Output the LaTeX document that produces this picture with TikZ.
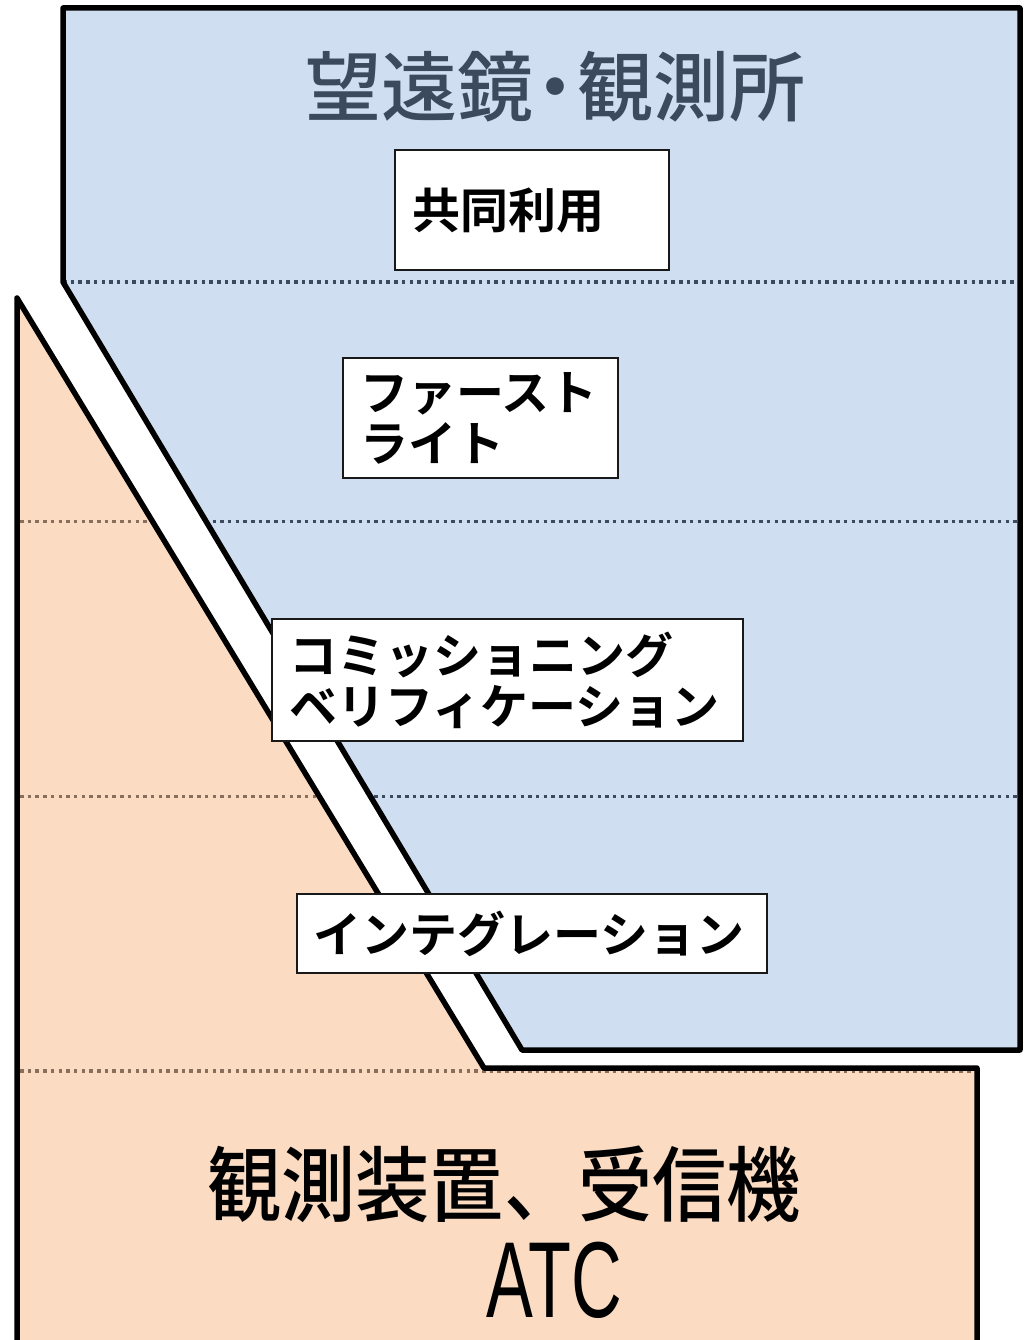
\documentclass[tikz,border=0pt]{standalone}
\usepackage{fontspec}
\newfontfamily\jp{Noto Sans CJK JP}[UprightFont={* Medium}, BoldFont={* Bold}]
\newfontfamily\latin{Liberation Sans}
\definecolor{bluefill}{HTML}{CFDFF1}
\definecolor{orangefill}{HTML}{FBDCC3}
\definecolor{bluedot}{HTML}{3B4A5C}
\definecolor{orangedot}{HTML}{8A6E5C}
\definecolor{titlecol}{HTML}{3B4A5C}
\begin{document}
\begin{tikzpicture}[x=1pt,y=-1pt,
  outline/.style={draw=black, line width=5.5pt, line join=round},
  sepline/.style={line width=3.5pt, dash pattern=on 3.5pt off 4.2pt},
  stage/.style={draw=black!90, line width=2pt, fill=white, anchor=north west,
    font=\jp\bfseries\fontsize{48}{51}\selectfont, align=left, inner ysep=0pt}]
\useasboundingbox (0,0) rectangle (1023,1340);
% shapes
\path[fill=bluefill] (63,8) -- (1020,8) -- (1020,1050) -- (522,1050) -- (63,282) -- cycle;
\path[fill=orangefill] (17,298) -- (484,1068) -- (977,1068) -- (977,1360) -- (17,1360) -- cycle;
% dotted separators
\begin{scope}
  \clip (63,8) -- (1020,8) -- (1020,1050) -- (522,1050) -- (63,282) -- cycle;
  \draw[sepline, draw=bluedot] (63,282) -- (1023,282);
  \draw[sepline, draw=bluedot] (20,521.5) -- (1023,521.5);
  \draw[sepline, draw=bluedot] (20,796.5) -- (1023,796.5);
\end{scope}
\begin{scope}
  \clip (17,298) -- (484,1068) -- (977,1068) -- (977,1360) -- (17,1360) -- cycle;
  \draw[sepline, draw=orangedot] (20,521.5) -- (1023,521.5);
  \draw[sepline, draw=orangedot] (20,796.5) -- (1023,796.5);
  \draw[sepline, draw=orangedot] (20,1071) -- (1023,1071);
\end{scope}
% outlines
\draw[outline] (63,8) -- (1020,8) -- (1020,1050) -- (522,1050) -- (63,282) -- cycle;
\draw[outline] (17,1360) -- (17,298) -- (484,1068) -- (977,1068) -- (977,1360);
% titles
\node[anchor=base west, inner sep=0pt, text=titlecol, font=\jp\fontsize{76}{80}\selectfont]
  (telescope) at (305,116) {望遠鏡\kern-16pt・\kern-16pt 観測所};
\node[anchor=base west, inner sep=0pt, text=black, font=\jp\fontsize{82}{86}\selectfont]
  (instrument) at (207,1215) {\scalebox{0.905}[1]{観測装置、受信機}};
\node[anchor=base, inner sep=0pt, text=black, font=\latin\fontsize{108}{112}\selectfont]
  (atc) at (554.5,1317) {\scalebox{0.65}[1]{ATC}};
% stage boxes
\node[stage, inner xsep=17pt, text width=240pt, minimum height=120pt] (shared) at (394,149) {共同利用};
\node[stage, inner xsep=17pt, text width=241pt, minimum height=120pt] (firstlight) at (342,357) {ファースト\\ライト};
\node[stage, inner xsep=17pt, text width=437pt, minimum height=122pt] (commission) at (271,618) {コミッショニング\\ベリフィケーション};
\node[stage, inner xsep=16pt, text width=438pt, minimum height=79pt] (integration) at (296,893) {インテグレーション};
\end{tikzpicture}
\end{document}
